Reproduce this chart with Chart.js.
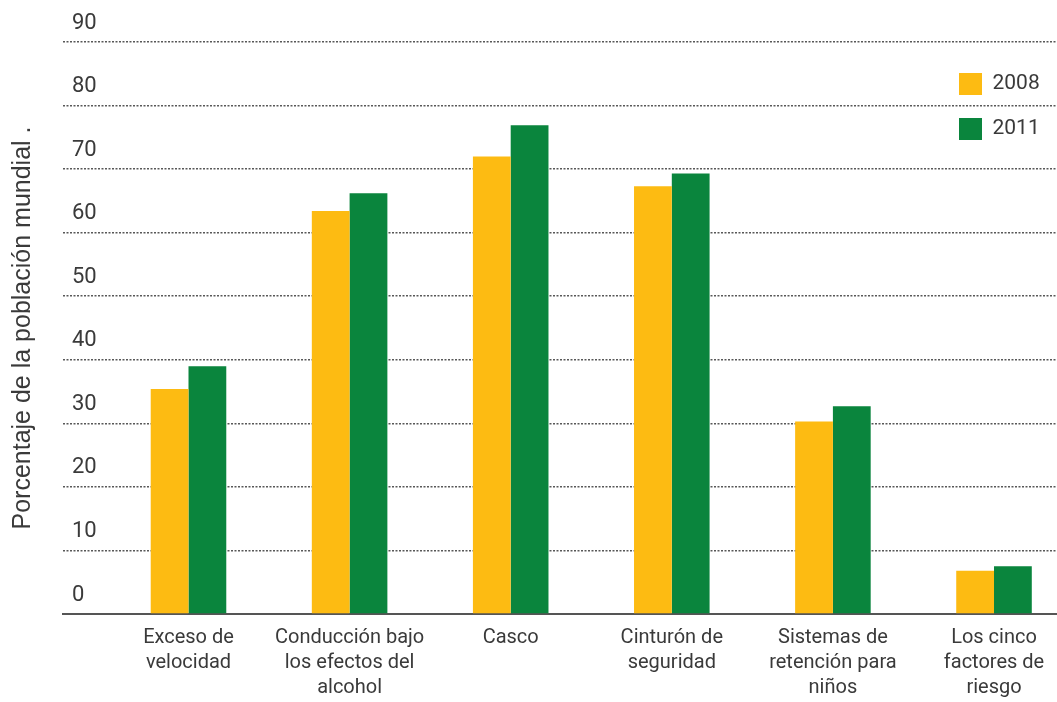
<!DOCTYPE html>
<html>
<head>
<meta charset="utf-8">
<script src="https://cdn.jsdelivr.net/npm/chart.js@4/dist/chart.umd.min.js"></script>
<style>
  html, body { margin: 0; padding: 0; background: #fff; }
  #wrap { width: 1057px; height: 702px; position: relative; }
</style>
</head>
<body>
<div id="wrap"><canvas id="chart"></canvas></div>
<script>
// categorias (cada una partida en lineas como en el original)
const categorias = [
  ['Exceso de', 'velocidad'],
  ['Conducción bajo', 'los efectos del', 'alcohol'],
  ['Casco'],
  ['Cinturón de', 'seguridad'],
  ['Sistemas de', 'retención para', 'niños'],
  ['Los cinco', 'factores de', 'riesgo']
];
const serie2008 = [35.4, 63.4, 72.0, 67.3, 30.3, 6.8];
const serie2011 = [39.0, 66.2, 76.9, 69.3, 32.7, 7.5];
const ticksY = [0, 10, 20, 30, 40, 50, 60, 70, 80, 90];

const fuente = "Roboto, 'Liberation Sans', sans-serif";
const colorTexto = '#3a3a3a';

// mueve la leyenda a la esquina superior derecha del area del grafico
const leyendaArriba = {
  id: 'leyendaArriba',
  afterLayout(chart) {
    const lg = chart.legend;
    if (!lg) return;
    const area = chart.chartArea;
    lg.left = area.right - 121;
    lg.top = area.top + 8;
    lg.right = area.right;
    lg.bottom = lg.top + 120;
    lg.width = lg.right - lg.left;
    lg.height = 120;
  }
};

const ctx = document.getElementById('chart').getContext('2d');
new Chart(ctx, {
  type: 'bar',
  data: {
    labels: categorias.map((_, i) => i),
    datasets: [
      {
        label: '2008',
        data: serie2008,
        backgroundColor: '#FDBB12',
        borderWidth: 0
      },
      {
        label: '2011',
        data: serie2011,
        backgroundColor: '#0A853D',
        borderWidth: 0
      }
    ]
  },
  options: {
    responsive: true,
    maintainAspectRatio: false,
    animation: false,
    layout: { padding: { top: 42, right: 0, bottom: 0, left: 0 } },
    datasets: {
      bar: { barPercentage: 1, categoryPercentage: 0.469 }
    },
    plugins: {
      tooltip: { enabled: false },
      legend: {
        position: 'chartArea',
        align: 'start',
        labels: {
          boxWidth: 23,
          boxHeight: 22,
          padding: 23,
          color: colorTexto,
          font: { family: fuente, size: 21 }
        }
      }
    },
    scales: {
      x: {
        type: 'linear',
        offset: false,
        min: -0.779,
        max: 5.391,
        grid: { display: false, drawTicks: false },
        border: { display: true, color: '#555', width: 2 },
        afterBuildTicks: (scale) => {
          scale.ticks = categorias.map((_, i) => ({ value: i }));
        },
        afterFit: (scale) => {
          scale.height = 88;
          scale.paddingLeft = 0;
          scale.paddingRight = 0;
        },
        ticks: {
          autoSkip: false,
          maxRotation: 0,
          padding: 11,
          color: colorTexto,
          font: { family: fuente, size: 20, lineHeight: 1.25 },
          callback: (v) => categorias[v]
        }
      },
      y: {
        min: 0,
        max: 90,
        afterBuildTicks: (scale) => {
          scale.ticks = ticksY.map(v => ({ value: v }));
        },
        afterFit: (scale) => {
          scale.width = 63;
          scale.paddingTop = 0;
          scale.paddingBottom = 0;
        },
        border: { display: false, dash: [2, 1.5] },
        grid: {
          color: 'rgba(70,70,70,0.9)',
          lineWidth: 1.5,
          drawTicks: false
        },
        ticks: {
          mirror: true,
          padding: 9,
          labelOffset: -19,
          color: colorTexto,
          font: { family: fuente, size: 22 }
        },
        title: {
          display: true,
          text: 'Porcentaje de la población mundial .',
          color: colorTexto,
          padding: { top: 8, bottom: 0 },
          font: { family: "'Liberation Sans', Arial, sans-serif", size: 25 }
        }
      }
    }
  },
  plugins: [leyendaArriba]
});
</script>
</body>
</html>
